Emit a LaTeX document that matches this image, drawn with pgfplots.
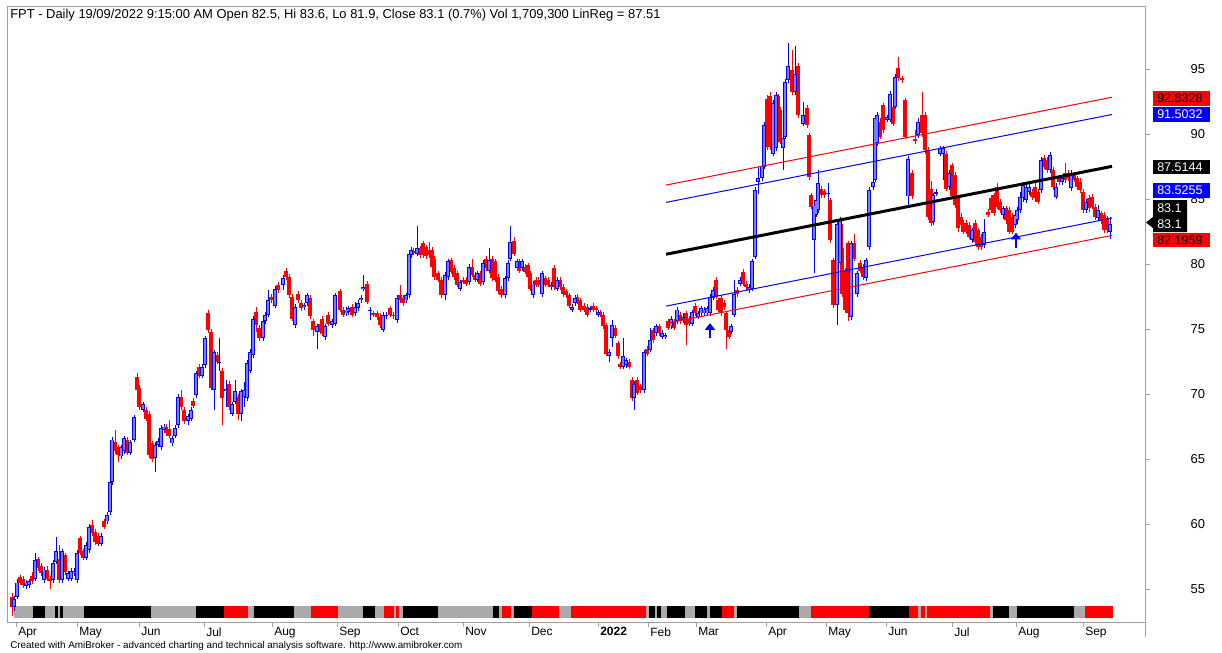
\documentclass[border=0pt]{standalone}
\usepackage{fontspec}
\setmainfont{Liberation Sans}
\usepackage{pgfplots}
\pgfplotsset{compat=1.18}
\usepackage{pgfplotstable}
\usetikzlibrary{arrows.meta}

\definecolor{upblue}{RGB}{0,0,255}
\definecolor{upfill}{RGB}{125,125,255}
\definecolor{dnred}{RGB}{255,0,0}
\definecolor{stripgray}{RGB}{170,170,170}
\definecolor{framegray}{RGB}{160,160,160}

\pgfplotsset{nomark/.style={only marks, mark=*, mark size=0pt, mark options={draw=none, fill=none}}}

\pgfplotstableread{
x o h l c
12 54.4 54.7 52.9 53.6
14 53.6 54.5 53.3 54.2
17 54.4 55.8 54.2 55.5
20 55.9 56.1 55.3 55.5
23 55.8 56.0 55.1 55.3
26 55.2 55.7 55.0 55.5
29 55.3 55.8 55.1 55.6
32 56.0 56.3 55.4 55.6
35 55.8 57.8 55.6 57.2
38 57.3 57.5 56.4 56.6
41 56.8 57.0 56.0 56.2
44 55.7 56.7 55.5 56.5
47 56.5 56.8 55.6 55.8
50 55.8 56.0 55.0 55.6
53 55.7 57.2 55.5 57.0
56 57.1 59.0 56.9 57.9
59 57.3 58.4 55.5 55.7
62 55.7 58.1 55.5 57.9
65 57.6 57.8 56.1 56.3
68 55.8 56.4 55.6 56.2
71 55.8 56.6 55.6 56.4
74 56.2 56.6 56.0 56.4
77 55.7 58.0 55.5 57.8
80 58.9 59.1 57.6 57.8
83 57.9 58.1 57.2 57.4
86 57.4 58.6 57.2 58.4
89 58.0 60.0 57.8 59.8
92 59.9 60.3 59.1 59.3
95 59.4 59.6 58.4 58.6
98 59.1 59.3 58.3 58.5
101 58.5 59.3 58.3 59.1
104 60.2 60.4 59.6 59.8
107 60.2 60.9 60.0 60.7
110 60.9 63.4 60.7 63.2
112 63.2 66.7 63.0 66.5
115 66.3 67.2 65.4 65.6
118 65.9 66.1 64.8 65.3
121 65.2 66.1 65.0 65.9
124 65.6 66.8 65.4 66.6
127 66.5 66.7 65.3 65.5
130 65.5 66.5 65.3 66.3
134 66.5 68.4 66.3 68.2
137 71.3 71.6 70.1 70.3
139 70.5 70.7 68.8 69.0
143 68.8 69.4 68.6 69.2
146 68.8 69.0 67.9 68.1
149 68.5 68.7 65.1 65.3
152 66.2 66.4 64.8 65.0
155 65.1 66.3 64.0 66.1
158 66.1 66.6 65.9 66.4
161 65.9 67.6 65.7 67.4
164 67.2 67.7 67.0 67.5
166 67.5 67.7 66.8 67.0
169 67.3 68.0 66.6 66.8
172 66.2 66.8 66.0 66.6
175 66.8 67.6 66.6 67.4
178 67.6 70.0 67.4 69.8
181 69.8 70.3 68.8 69.0
184 68.8 69.0 67.7 67.9
188 67.9 68.5 67.6 68.3
191 68.1 69.0 67.9 68.8
193 69.5 69.7 68.9 69.1
196 69.9 71.8 69.7 71.6
199 72.1 72.3 71.2 71.4
202 71.4 72.3 71.2 72.1
205 72.2 74.5 72.0 74.3
208 76.2 76.5 74.7 74.9
211 74.8 75.0 70.3 70.5
214 70.3 73.4 68.8 73.2
217 73.0 73.2 72.3 72.5
219 72.4 74.3 71.8 72.5
222 71.8 72.0 67.6 69.7
226 70.2 71.1 69.0 70.35
229 70.8 71.0 68.8 69.0
232 68.5 69.4 68.3 69.2
235 69.4 71.1 69.2 70.2
238 69.8 70.0 68.0 68.5
241 68.5 70.4 67.9 70.2
244 69.8 70.9 69.0 70.3
247 69.7 72.6 69.5 72.4
250 71.8 73.5 71.6 73.25
253 73.0 76.0 72.8 75.8
256 76.3 76.7 74.8 75.3
259 75.05 75.3 74.1 74.3
263 74.3 75.8 74.1 75.6
265 75.6 76.3 75.4 76.1
268 76.1 78.0 75.9 77.2
271 77.5 77.7 77.0 77.2
275 76.8 78.3 76.6 78.1
278 78.4 78.6 77.8 78.0
283 78.4 79.15 78.0 78.9
286 79.5 79.7 78.8 79.0
289 79.0 79.2 77.4 77.6
292 77.5 77.7 75.6 75.8
295 75.3 76.9 75.1 76.7
298 77.7 77.9 77.0 77.2
301 77.0 77.2 76.4 76.6
304 76.7 77.0 76.5 76.85
307 77.0 77.8 76.8 77.6
310 77.4 77.6 75.8 76.0
313 75.6 75.8 74.5 74.9
317 74.8 75.4 73.5 75.2
320 75.4 75.6 74.6 74.8
322 75.8 76.0 74.5 74.7
325 74.4 75.4 74.15 75.2
328 76.1 76.3 75.2 75.4
332 75.3 75.8 75.1 75.6
335 75.4 77.8 75.2 77.6
340 77.9 78.1 76.3 76.5
343 76.5 76.7 75.9 76.1
346 76.2 76.7 76.0 76.5
348 76.3 76.8 76.1 76.6
352 76.7 76.9 75.9 76.1
355 76.2 77.1 76.0 76.7
358 76.6 77.2 76.4 77.0
361 77.2 77.6 77.0 77.4
363 78.1 79.15 77.9 78.25
367 78.5 78.7 76.9 77.1
370 76.4 76.7 75.7 76.5
373 76.2 76.4 75.9 76.05
377 76.2 76.4 75.7 75.95
380 75.95 76.2 75.1 75.3
383 74.9 76.3 74.8 76.1
386 76.0 76.3 75.8 76.1
390 76.6 76.8 75.9 76.1
393 76.1 76.3 75.8 76.0
397 75.7 77.6 75.5 77.4
400 77.6 78.4 77.0 77.2
403 77.4 77.6 76.8 77.0
406 77.2 77.8 77.0 77.6
409 77.6 81.0 77.4 80.8
411 80.7 81.3 80.5 81.1
413 81.0 81.2 80.7 80.9
417 80.8 82.9 80.6 81.2
420 81.2 81.4 80.5 80.7
423 81.6 81.8 80.5 80.7
426 81.3 81.5 80.4 80.6
429 81.1 81.7 80.5 80.7
432 81.1 81.3 79.6 79.8
434 80.4 80.6 78.8 79.0
438 79.3 79.5 78.6 78.8
441 78.8 79.0 77.4 77.6
445 77.6 79.4 77.2 79.15
448 79.0 80.4 78.8 80.2
451 80.3 80.5 79.2 79.4
454 79.7 79.9 78.8 79.0
457 79.3 79.5 78.2 78.4
460 78.1 78.8 77.9 78.6
463 78.8 79.0 78.5 78.6
466 78.8 79.0 78.3 78.5
469 78.6 80.0 78.4 79.8
472 79.8 80.4 79.0 79.15
475 79.15 79.4 78.6 78.8
477 78.8 79.5 78.6 79.3
480 79.3 79.5 78.3 78.5
483 78.6 80.3 78.4 80.05
486 80.4 80.6 79.5 79.7
489 79.5 81.2 79.3 80.3
492 80.4 80.6 78.7 78.9
495 80.2 80.4 78.6 78.8
498 79.0 79.2 77.7 77.9
501 78.1 78.3 77.4 77.6
505 77.6 79.1 77.4 78.9
508 78.9 80.3 78.7 80.05
510 80.4 82.9 80.2 81.7
514 81.8 82.1 80.6 80.8
517 79.7 80.4 79.5 80.2
519 80.2 80.4 79.3 79.5
522 79.7 80.4 79.5 80.2
525 79.8 80.0 79.2 79.4
528 79.9 80.1 78.8 79.0
530 79.3 79.5 77.9 78.1
533 77.6 78.7 77.4 78.5
536 78.8 79.0 78.2 78.4
538 78.8 79.0 78.2 78.4
542 77.7 79.5 77.5 79.3
545 78.9 79.1 78.2 78.4
548 78.8 79.0 78.2 78.4
551 78.25 78.6 78.0 78.4
554 79.7 79.9 78.0 78.25
557 78.1 79.0 77.9 78.8
560 78.8 79.0 78.0 78.25
563 78.25 78.5 77.5 77.7
566 77.9 78.1 77.4 77.6
569 77.6 77.8 76.6 76.8
572 76.5 76.9 76.3 76.7
575 77.0 77.6 76.8 77.4
577 77.5 77.7 76.9 77.1
580 77.2 77.4 76.3 76.5
584 76.8 77.0 76.3 76.5
587 76.7 76.9 75.9 76.1
590 76.5 76.8 76.3 76.6
593 76.8 77.0 76.3 76.5
596 76.6 76.8 76.3 76.45
598 76.1 76.5 75.9 76.3
600 76.3 76.5 75.9 76.1
603 76.1 76.3 75.0 75.2
606 75.3 75.5 72.9 73.1
609 72.9 73.5 72.5 73.25
612 74.3 75.7 73.6 75.3
615 75.05 75.3 74.3 74.5
618 73.9 74.1 72.7 72.9
620 72.3 72.5 71.9 72.1
623 72.1 74.3 71.9 72.9
626 72.2 72.8 72.0 72.6
629 72.5 72.7 71.9 72.1
632 71.1 71.3 69.5 69.7
634 69.7 71.0 68.8 70.8
637 71.1 71.3 69.9 70.05
640 70.6 70.8 70.1 70.3
644 70.3 73.4 70.1 73.25
647 73.5 73.7 72.9 73.1
650 73.4 75.05 73.2 74.15
653 74.9 75.1 73.9 74.15
656 74.7 75.4 74.5 75.2
659 75.2 75.4 74.5 74.7
662 74.4 74.9 74.2 74.7
665 74.4 74.7 74.2 74.55
668 75.6 75.8 74.9 75.05
671 75.2 76.0 75.0 75.8
674 75.6 75.8 74.9 75.05
677 75.6 76.7 75.4 76.5
680 76.1 76.3 75.4 75.6
683 75.7 76.2 75.5 75.95
686 76.2 76.4 73.8 75.3
689 75.8 76.0 75.2 75.4
692 75.4 76.5 75.2 76.3
695 76.8 77.0 76.0 76.2
698 75.95 76.4 75.8 76.2
701 76.2 76.8 76.0 76.6
704 76.2 76.7 76.0 76.5
707 76.2 76.8 76.0 76.6
710 76.2 77.7 76.0 77.5
713 77.4 78.2 77.2 78.0
716 78.8 79.0 77.3 77.5
718 77.2 77.4 76.3 76.5
721 77.4 77.6 76.0 76.2
724 77.0 77.2 76.5 76.7
726 76.2 76.4 73.5 74.9
729 74.9 75.1 74.2 74.4
731 74.8 75.4 74.6 75.2
734 76.1 78.8 75.9 77.7
737 78.0 78.2 77.5 77.7
740 78.5 79.0 78.3 78.8
743 79.4 79.6 78.3 78.5
746 78.5 78.7 78.0 78.25
749 78.0 78.5 77.8 78.25
752 78.1 80.4 77.9 80.2
755 80.56 85.9 80.4 85.7
758 86.33 87.5 85.4 86.6
762 86.6 87.7 86.4 87.5
764 87.5 90.9 87.3 90.7
767 92.7 93.0 88.8 89.0
770 92.9 93.2 88.8 89.0
773 88.5 92.6 88.3 92.4
776 88.9 93.2 88.7 93.0
778 92.9 93.1 91.4 91.6
780 91.85 92.1 89.2 89.4
783 88.9 89.9 87.2 89.7
785 89.8 94.2 89.6 94.0
788 94.15 97.0 93.9 95.2
792 94.9 96.5 93.0 93.26
795 93.2 96.8 93.0 94.6
798 95.2 95.5 91.2 91.46
803 90.8 92.5 90.6 91.46
807 92.0 92.2 90.5 90.7
809 89.9 90.1 86.5 86.7
811 85.3 85.5 84.2 84.4
814 81.85 84.7 79.3 84.5
816 83.8 85.1 83.6 84.9
818 84.15 87.2 83.9 86.2
821 85.8 86.0 85.1 85.3
824 85.6 85.8 85.1 85.3
828 85.4 86.2 83.1 85.5
830 84.9 85.1 81.6 81.85
833 80.3 80.5 76.6 76.85
837 76.85 83.4 75.3 83.1
840 80.05 83.6 79.8 83.4
842 81.2 83.1 77.5 77.7
845 79.5 79.7 76.2 76.5
848 81.6 81.8 75.6 76.2
851 75.95 81.8 75.7 81.6
854 81.6 82.3 80.2 80.4
857 77.7 79.5 77.5 79.3
860 80.05 80.3 79.3 79.5
863 79.8 80.0 78.8 79.0
866 78.9 80.5 78.7 80.3
869 81.3 85.9 81.1 85.7
873 85.95 86.5 85.7 86.33
875 86.5 91.4 86.3 91.2
877 89.3 91.7 89.1 91.46
880 90.95 91.2 89.6 89.8
883 92.2 92.4 90.1 90.3
887 91.1 91.5 90.9 91.33
890 91.1 93.3 90.9 93.1
893 92.1 92.3 90.6 90.8
895 92.1 94.6 91.9 94.4
898 95.05 95.95 94.1 94.28
902 94.3 94.5 93.9 94.15
905 92.6 92.8 89.6 89.8
908 85.2 88.3 84.3 88.1
912 87.0 87.2 85.0 85.2
915 89.6 90.3 89.2 89.5
918 89.9 91.2 89.7 90.95
922 91.46 93.26 89.8 90.05
925 91.46 91.7 88.5 88.77
928 88.77 89.0 83.4 83.64
931 85.8 86.4 82.9 83.13
933 83.26 85.5 83.0 85.3
936 85.44 85.8 85.2 85.56
940 88.5 89.1 88.3 88.9
943 88.5 89.1 86.5 88.9
946 88.5 88.7 85.6 85.8
949 85.95 87.2 85.7 86.97
952 87.6 87.8 85.0 85.2
955 86.85 87.1 84.3 84.54
958 85.05 85.3 82.5 82.74
961 83.64 83.9 82.8 83.0
963 83.13 83.4 82.3 82.49
966 83.13 83.4 82.3 82.49
969 83.0 83.2 81.9 82.1
972 81.85 82.8 81.6 82.6
975 83.13 83.4 81.5 81.72
978 82.6 82.8 81.1 81.33
981 82.1 82.3 81.1 81.33
984 81.46 83.5 81.2 82.49
988 84.0 84.2 83.6 83.77
991 85.05 85.3 83.9 84.15
994 85.3 85.5 83.7 83.9
997 85.95 86.2 84.2 84.41
1000 84.8 85.0 83.9 84.15
1003 83.77 84.5 83.5 84.28
1006 84.28 84.5 83.1 83.38
1009 84.15 84.4 82.3 82.49
1012 83.64 83.9 82.3 82.49
1015 83.0 84.0 82.8 83.77
1017 83.38 84.4 83.1 84.15
1020 84.15 85.56 83.9 85.18
1023 85.05 86.3 84.8 86.07
1026 84.92 86.2 84.7 85.95
1029 85.56 86.2 85.3 85.95
1032 85.56 85.8 84.9 85.18
1035 85.95 86.2 84.8 85.05
1038 85.56 85.8 84.6 84.8
1041 85.69 88.2 85.5 88.0
1044 88.13 88.4 87.3 87.49
1047 88.0 88.2 87.0 87.23
1050 87.23 88.64 87.0 88.38
1053 87.23 87.5 85.7 85.95
1056 85.18 86.2 85.0 85.95
1059 86.59 86.8 86.1 86.33
1062 86.33 86.8 86.1 86.59
1065 86.97 87.74 86.2 86.46
1068 86.97 87.2 86.4 86.59
1071 85.82 87.2 85.6 86.97
1074 86.85 87.1 86.3 86.46
1077 86.59 86.8 85.7 85.95
1080 86.33 86.6 85.5 85.69
1083 85.56 85.8 83.9 84.15
1086 84.15 85.0 83.9 84.8
1089 85.05 85.3 84.0 84.28
1092 85.18 85.4 84.2 84.41
1095 84.41 84.6 83.4 83.64
1098 83.51 84.54 83.3 84.15
1101 83.9 84.1 83.1 83.38
1104 83.77 84.0 82.4 82.6
1107 83.51 83.7 82.4 82.6
1110 82.5 83.6 81.9 83.1
}\candles

\pgfplotstableread{
a b
14 1113
}\grayseg

\pgfplotstableread{
a b
33 45
55 58
60 63
84 151
196 224
254 294
363 375
403 438
493 499
514 532
649 655
657 661
667 685
695 707
710 722
737 799
869 909
993 1009
1017 1074
}\blackseg

\pgfplotstableread{
a b
224 248
311 338
384 394
396 399
502 511
532 559
571 646
722 734
811 869
909 918
921 925
927 990
1085 1113
}\redseg

\begin{document}
\begin{tikzpicture}[x=0.75pt,y=-0.75pt]
\path[use as bounding box] (0,0) rectangle (1222,653);
\begin{axis}[
  at={(5.25pt,-5.25pt)}, anchor=north west,
  scale only axis, width=853.5pt, height=461.25pt,
  xmin=7, xmax=1145, ymin=52.4615, ymax=99.7692,
  axis line style={draw=framegray, line width=0.75pt},
  tick style={draw=framegray, line width=0.75pt},
  tick align=outside, major tick length=4pt,
  xtick pos=bottom, ytick pos=right,
  xtick={16,77,139,204,272,337,398,463,529,598,648,696,766,826,886,952,1016,1083},
  xticklabels={Apr,May,Jun,Jul,Aug,Sep,Oct,Nov,Dec,\textbf{2022},Feb,Mar,Apr,May,Jun,Jul,Aug,Sep},
  ytick={55,60,65,70,75,80,85,90,95},
  yticklabel pos=right,
  /pgf/number format/assume math mode=true,
  xticklabel style={font=\fontsize{9}{10}\selectfont, anchor=north west, inner sep=0pt, xshift=1.5pt, yshift=0pt},
  yticklabel style={font=\fontsize{9.7}{11}\selectfont, anchor=west, inner sep=0pt, xshift=30pt},
]
% status strip
\addplot[nomark, error bars/.cd, x dir=both, x explicit, error mark=none,
  error bar style={stripgray, line width=9pt}]
  table[x expr={(\thisrow{a}+\thisrow{b})/2}, y expr=53.23, x error expr={(\thisrow{b}-\thisrow{a})/2}] {\grayseg};
\addplot[nomark, error bars/.cd, x dir=both, x explicit, error mark=none,
  error bar style={black, line width=9pt}]
  table[x expr={(\thisrow{a}+\thisrow{b})/2}, y expr=53.23, x error expr={(\thisrow{b}-\thisrow{a})/2}] {\blackseg};
\addplot[nomark, error bars/.cd, x dir=both, x explicit, error mark=none,
  error bar style={dnred, line width=9pt}]
  table[x expr={(\thisrow{a}+\thisrow{b})/2}, y expr=53.23, x error expr={(\thisrow{b}-\thisrow{a})/2}] {\redseg};

% wicks
\addplot[nomark, restrict expr to domain={\thisrow{c}-\thisrow{o}}{0:100},
  error bars/.cd, y dir=both, y explicit, error mark=none, error bar style={upblue, line width=0.75pt}]
  table[x=x, y expr={(\thisrow{h}+\thisrow{l})/2}, y error expr={(\thisrow{h}-\thisrow{l})/2}] {\candles};
\addplot[nomark, restrict expr to domain={\thisrow{o}-\thisrow{c}}{0.0001:100},
  error bars/.cd, y dir=both, y explicit, error mark=none, error bar style={dnred, line width=0.75pt}]
  table[x=x, y expr={(\thisrow{h}+\thisrow{l})/2}, y error expr={(\thisrow{h}-\thisrow{l})/2}] {\candles};
% bodies
\addplot[nomark, restrict expr to domain={\thisrow{o}-\thisrow{c}}{0.0001:100},
  error bars/.cd, y dir=both, y explicit, error mark=none, error bar style={dnred, line width=2.4pt}]
  table[x=x, y expr={(\thisrow{o}+\thisrow{c})/2}, y error expr={max(abs(\thisrow{c}-\thisrow{o})/2,0.04)}] {\candles};
\addplot[nomark, restrict expr to domain={\thisrow{c}-\thisrow{o}}{0:100},
  error bars/.cd, y dir=both, y explicit, error mark=none, error bar style={upblue, line width=2.6pt}]
  table[x=x, y expr={(\thisrow{o}+\thisrow{c})/2}, y error expr={max(abs(\thisrow{c}-\thisrow{o})/2,0.04)}] {\candles};
\addplot[nomark, restrict expr to domain={\thisrow{c}-\thisrow{o}}{0:100},
  error bars/.cd, y dir=both, y explicit, error mark=none, error bar style={upfill, line width=1.1pt}]
  table[x=x, y expr={(\thisrow{o}+\thisrow{c})/2}, y error expr={max(abs(\thisrow{c}-\thisrow{o})/2-0.07,0)}] {\candles};

% regression channel
\addplot[black, line width=2.25pt] coordinates {(666,80.75) (1112,87.51)};
\addplot[upblue, line width=0.75pt] coordinates {(666,84.74) (1112,91.50)};
\addplot[upblue, line width=0.75pt] coordinates {(666,76.76) (1112,83.53)};
\addplot[dnred, line width=0.75pt] coordinates {(666,86.07) (1112,92.83)};
\addplot[dnred, line width=0.75pt] coordinates {(666,75.43) (1112,82.20)};

% buy arrows
\addplot[upblue, line width=2.2pt, -{Triangle[length=5pt,width=7.5pt]}, quiver={u=0,v=1.15}]
  coordinates {(710,74.3) (1016,81.25)};
\end{axis}

% right axis extension
\draw[framegray, line width=0.75pt] (1145,622) -- (1145,637);

% value boxes
\fill[dnred] (1153,91) rectangle (1210,106);
\node[anchor=west, inner sep=0pt, font=\fontsize{9.4}{10}\selectfont, text=black] at (1157,98.5) {92.8328};
\fill[upblue] (1153,107) rectangle (1210,122);
\node[anchor=west, inner sep=0pt, font=\fontsize{9.4}{10}\selectfont, text=white] at (1157,114.5) {91.5032};
\fill[black] (1153,160) rectangle (1210,174);
\node[anchor=west, inner sep=0pt, font=\fontsize{9.4}{10}\selectfont, text=white] at (1157,167) {87.5144};
\fill[upblue] (1153,183) rectangle (1210,198);
\node[anchor=west, inner sep=0pt, font=\fontsize{9.4}{10}\selectfont, text=white] at (1157,190.5) {83.5255};
\fill[black] (1153,200) -- (1187,200) -- (1187,232) -- (1153,232) -- (1153,228) -- (1146,222.5) -- (1153,217) -- cycle;
\node[anchor=west, inner sep=0pt, font=\fontsize{9.4}{10}\selectfont, text=white] at (1157,208.5) {83.1};
\node[anchor=west, inner sep=0pt, font=\fontsize{9.4}{10}\selectfont, text=white] at (1157,224.5) {83.1};
\fill[dnred] (1153,233) rectangle (1210,247);
\node[anchor=west, inner sep=0pt, font=\fontsize{9.4}{10}\selectfont, text=black] at (1157,240) {82.1959};

% title and caption
\node[anchor=west, inner sep=0pt, font=\fontsize{9.7}{11}\selectfont] at (10,15)
  {FPT - Daily 19/09/2022 9:15:00 AM Open 82.5, Hi 83.6, Lo 81.9, Close 83.1 (0.7\%) Vol 1,709,300 LinReg = 87.51};
\node[anchor=west, inner sep=0pt, font=\fontsize{7.4}{9}\selectfont] at (10,646)
  {Created with AmiBroker - advanced charting and technical analysis software. http://www.amibroker.com};
\end{tikzpicture}
\end{document}
